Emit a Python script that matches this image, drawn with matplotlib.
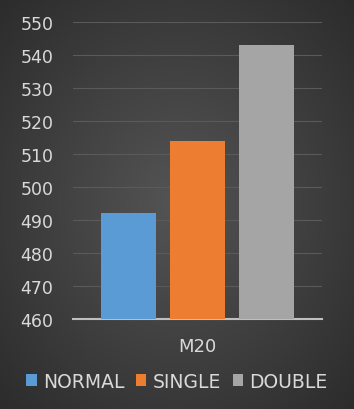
import matplotlib.pyplot as plt
import numpy as np

# данные
series = ["NORMAL", "SINGLE", "DOUBLE"]
values = [492, 514, 543]
category = "M20"
colors = ["#5B9BD5", "#ED7D31", "#A5A5A5"]

fig = plt.figure(figsize=(3.54, 4.10), dpi=100)
plt.rcParams['font.family'] = ['DejaVu Sans']

# фон с радиальным градиентом
bg = fig.add_axes([0, 0, 1, 1], zorder=0)
yy, xx = np.mgrid[-1:1:200j, -1:1:200j]
r = np.sqrt(xx ** 2 + yy ** 2)
bg.imshow(r, cmap=plt.matplotlib.colors.LinearSegmentedColormap.from_list(
    "bg", ["#545454", "#2c2c2c"]), aspect="auto", extent=[0, 1, 0, 1])
bg.axis("off")

ax = fig.add_axes([0.206, 0.22, 0.704, 0.724], zorder=1)
ax.patch.set_alpha(0)

x = np.arange(len(series)) - 1
bars = ax.bar(x, [v - 460 for v in values], bottom=460, width=0.8,
              color=colors, label=series, zorder=3)

ax.set_ylim(460, 550)
ax.set_xlim(-1.8, 1.8)
ax.set_yticks(range(460, 551, 10))
ax.set_xticks([0])
ax.set_xticklabels([category])
ax.yaxis.grid(True, color="#5a5a5a", linewidth=0.8, zorder=0)
for s in ["top", "right", "left"]:
    ax.spines[s].set_visible(False)
ax.spines["bottom"].set_color("#bfbfbf")
ax.spines["bottom"].set_linewidth(1.5)
ax.tick_params(length=0, colors="#d9d9d9", labelsize=12.5)
ax.tick_params(axis="y", pad=14)
ax.tick_params(axis="x", pad=13, labelsize=13)

fig.legend(handles=bars, labels=series, loc="center", bbox_to_anchor=(0.5, 0.068),
           ncol=3, frameon=False, fontsize=13.5, labelcolor="#d9d9d9",
           handlelength=0.55, handleheight=0.55, handletextpad=0.35, columnspacing=0.6)

plt.savefig("out.png", dpi=100)
plt.close()
